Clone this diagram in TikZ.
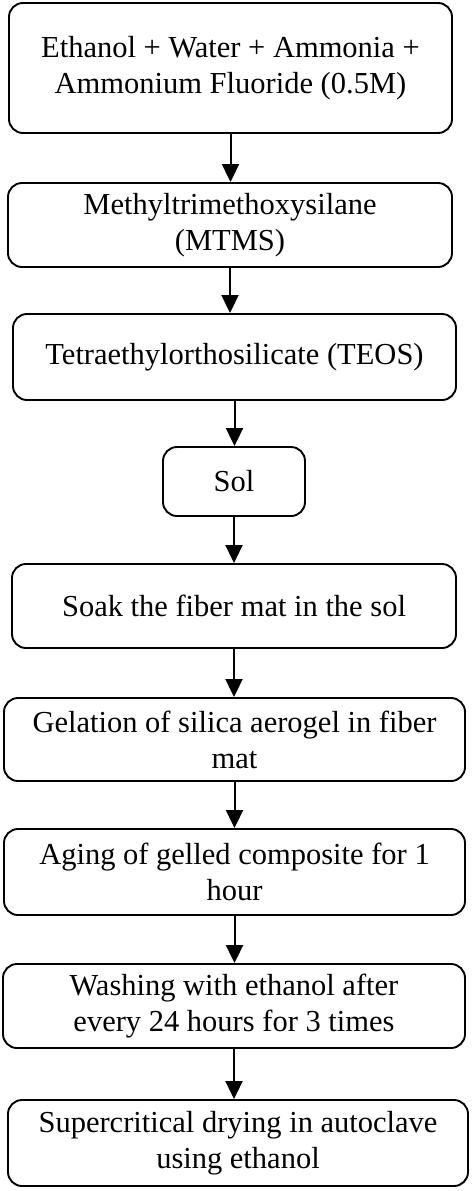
\documentclass[tikz,border=0pt]{standalone}
\usepackage{fontspec}
\setmainfont{Liberation Serif}
\usetikzlibrary{arrows.meta}

\begin{document}
\begin{tikzpicture}[x=1pt,y=-1pt,
  box/.style={draw,line width=1.9pt,rounded corners=14pt,align=center,
    inner sep=0pt,font=\fontsize{30.5}{36}\selectfont},
  arr/.style={line width=2pt,-{Triangle[length=18pt,width=17pt]}}]
\useasboundingbox (0,0) rectangle (474,1191);
% Steps of the process, top to bottom
\node[box,minimum width=443,minimum height=130] (mix) at (230.5,68)
  {Ethanol + Water + Ammonia +\\Ammonium Fluoride (0.5M)};
\node[box,minimum width=444,minimum height=84] (mtms) at (230,225)
  {Methyltrimethoxysilane\\(MTMS)};
\node[box,minimum width=443,minimum height=86] (teos) at (234.5,357)
  {Tetraethylorthosilicate (TEOS)};
\node[box,minimum width=142,minimum height=69] (sol) at (234,481.5) {Sol};
\node[box,minimum width=444,minimum height=84] (soak) at (234,606)
  {Soak the fiber mat in the sol};
\node[box,minimum width=461,minimum height=83] (gel) at (234.5,739.5)
  {Gelation of silica aerogel in fiber\\mat};
\node[box,minimum width=461,minimum height=86] (aging) at (234.5,872)
  {Aging of gelled composite for 1\\hour};
\node[box,minimum width=462,minimum height=84] (wash) at (234,1006)
  {Washing with ethanol after\\every 24 hours for 3 times};
\node[box,minimum width=460,minimum height=86] (dry) at (238,1143)
  {Supercritical drying in autoclave\\using ethanol};
% Arrows between the steps
\foreach \a/\b in {mix/mtms,mtms/teos,teos/sol,sol/soak,soak/gel,gel/aging,aging/wash,wash/dry}
  \draw[arr] (\a.south) -- (\a.south |- \b.north);
\end{tikzpicture}
\end{document}
